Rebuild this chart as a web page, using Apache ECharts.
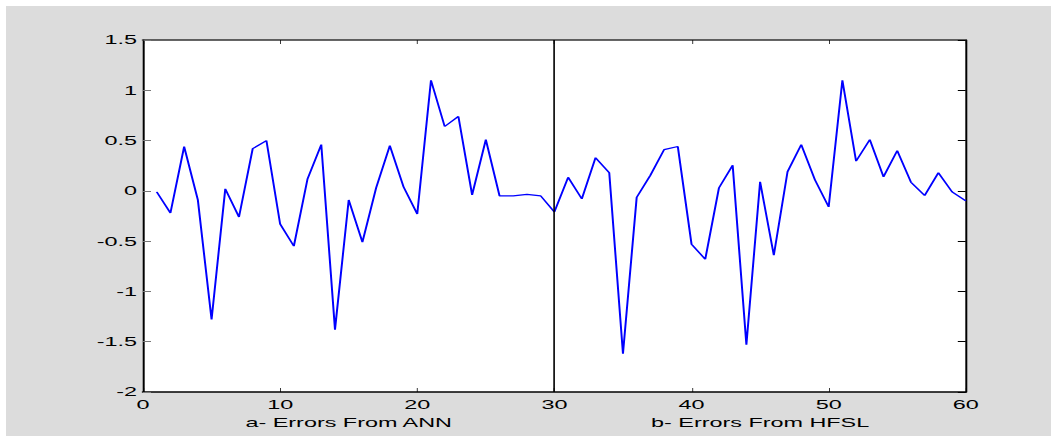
<!DOCTYPE html>
<html>
<head>
<meta charset="utf-8">
<script src="https://cdn.jsdelivr.net/npm/echarts@6/dist/echarts.min.js"></script>
<style>
html,body{margin:0;padding:0;background:#ffffff;overflow:hidden;}
#frame{position:absolute;left:6px;top:6px;width:1045px;height:430px;background:#dcdcdc;overflow:hidden;}
#chart{position:absolute;left:0;top:0;height:430px;transform-origin:0 0;}
</style>
</head>
<body>
<div id="frame"><div id="chart"></div></div>
<script>
// Errors, x = 1..60 (1..30 ANN, 31..60 HFSL; point 30 joins both)
const xValues = Array.from({length: 60}, (_, i) => i + 1);
const errors = [
  -0.01, -0.22, 0.44, -0.09, -1.28, 0.02, -0.26, 0.42, 0.50, -0.33,
  -0.55, 0.12, 0.46, -1.38, -0.09, -0.51, 0.03, 0.45, 0.04, -0.23,
  1.10, 0.64, 0.74, -0.04, 0.51, -0.05, -0.05, -0.035, -0.05, -0.21,
  0.135, -0.08, 0.33, 0.18, -1.62, -0.065, 0.155, 0.41, 0.44, -0.53,
  -0.68, 0.03, 0.255, -1.53, 0.09, -0.64, 0.19, 0.46, 0.11, -0.16,
  1.10, 0.295, 0.51, 0.14, 0.40, 0.086, -0.046, 0.18, -0.01, -0.10
];
const groupLabels = {15: 'a- Errors From ANN', 45: 'b- Errors From HFSL'};
const dividerX = 30;

// The reference figure is stretched horizontally; reproduce that with a CSS scaleX.
const S = 1.8;
const el = document.getElementById('chart');
el.style.width = (1045 / S) + 'px';
el.style.transform = 'scaleX(' + S + ')';

const font = {fontFamily: '"Liberation Sans", Arial, sans-serif', fontSize: 13, color: '#000'};
const chart = echarts.init(el, null, {renderer: 'svg'});
chart.setOption({
  backgroundColor: '#dcdcdc',
  animation: false,
  grid: {left: 137 / S, top: 34, right: 86 / S, bottom: 44, show: true, backgroundColor: '#ffffff', borderWidth: 0},
  xAxis: [
    {type: 'value', min: 0, max: 60, interval: 10, position: 'bottom',
     axisLine: {show: true, onZero: false, lineStyle: {color: '#000', width: 1.5}},
     axisTick: {show: true, inside: true, length: 4, lineStyle: {color: '#000', width: 1 / S}},
     axisLabel: Object.assign({margin: 6}, font),
     splitLine: {show: false}},
    {type: 'value', min: 0, max: 60, interval: 10, position: 'top',
     axisLine: {show: true, onZero: false, lineStyle: {color: '#333', width: 1.5}},
     axisTick: {show: true, inside: true, length: 4, lineStyle: {color: '#000', width: 1 / S}},
     axisLabel: {show: false}, splitLine: {show: false}},
    {type: 'value', min: 0, max: 60, interval: 15, position: 'bottom', offset: 18,
     axisLine: {show: false}, axisTick: {show: false}, splitLine: {show: false},
     axisLabel: Object.assign({margin: 6, formatter: v => groupLabels[v] || ''}, font)}
  ],
  yAxis: [
    {type: 'value', min: -2, max: 1.5, interval: 0.5, position: 'left',
     axisLine: {show: true, onZero: false, lineStyle: {color: '#000', width: 1.1}},
     axisTick: {show: true, inside: true, length: 8 / S, lineStyle: {color: '#777', width: 1}},
     axisLabel: Object.assign({margin: 6 / S}, font),
     splitLine: {show: false}},
    {type: 'value', min: -2, max: 1.5, interval: 0.5, position: 'right',
     axisLine: {show: true, onZero: false, lineStyle: {color: '#000', width: 1.1}},
     axisTick: {show: true, inside: true, length: 8 / S, lineStyle: {color: '#000', width: 1}},
     axisLabel: {show: false}, splitLine: {show: false}}
  ],
  series: [{
    type: 'line',
    xAxisIndex: 0, yAxisIndex: 0,
    data: xValues.map((x, i) => [x, errors[i]]),
    showSymbol: false, symbol: 'none',
    lineStyle: {color: '#0000ff', width: 1.1},
    markLine: {
      silent: true, symbol: 'none', label: {show: false},
      lineStyle: {color: '#000', type: 'solid', width: 0.9},
      data: [{xAxis: dividerX}]
    }
  }]
});
</script>
</body>
</html>
